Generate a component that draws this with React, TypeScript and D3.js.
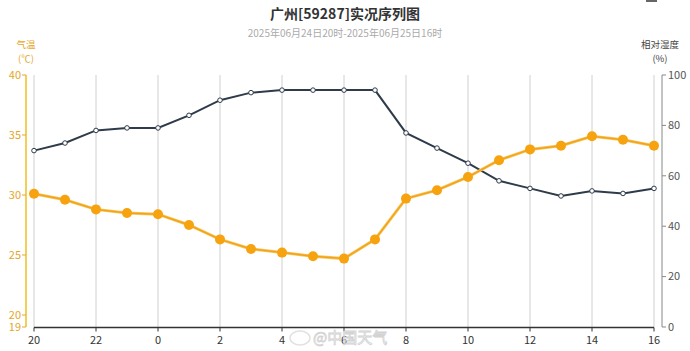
import { useEffect, useRef } from "react";
import * as d3 from "d3";

// hours from 2025-06-24 20h to 2025-06-25 16h
const hours = [20, 21, 22, 23, 0, 1, 2, 3, 4, 5, 6, 7, 8, 9, 10, 11, 12, 13, 14, 15, 16];
const temperature = [30.1, 29.6, 28.8, 28.5, 28.4, 27.5, 26.3, 25.5, 25.2, 24.9, 24.7, 26.3, 29.7, 30.4, 31.5, 32.9, 33.8, 34.1, 34.9, 34.6, 34.1];
const humidity = [70, 73, 78, 79, 79, 84, 90, 93, 94, 94, 94, 94, 77, 71, 65, 58, 55, 52, 54, 53, 55];
const tempTicks = [19, 20, 25, 30, 35, 40];
const humTicks = [0, 20, 40, 60, 80, 100];

const FONT = "'Noto Sans CJK SC', 'Noto Sans', sans-serif";

function App() {
	const ref = useRef<SVGSVGElement>(null);

	const width = 690;
	const height = 351;
	const plot = { left: 34, right: 654, top: 75, bottom: 327 };

	useEffect(() => {
		drawChart();
	}, []);

	function drawChart() {
		const svg = d3.select(ref.current);
		svg.selectAll("*").remove();
		svg.style("font-family", FONT);

		const x = d3.scaleLinear().domain([0, hours.length - 1]).range([plot.left, plot.right]);
		const yTemp = d3.scaleLinear().domain([19, 40]).range([plot.bottom, plot.top]);
		const yHum = d3.scaleLinear().domain([0, 100]).range([plot.bottom, plot.top]);

		// Title
		svg.append("text")
			.attr("x", width / 2)
			.attr("y", 19)
			.attr("text-anchor", "middle")
			.attr("font-size", 14)
			.attr("font-weight", "bold")
			.attr("fill", "#333")
			.text("广州[59287]实况序列图");

		svg.append("text")
			.attr("x", width / 2)
			.attr("y", 37)
			.attr("text-anchor", "middle")
			.attr("font-size", 10)
			.attr("fill", "#aaa")
			.text("2025年06月24日20时-2025年06月25日16时");

		// little menu icon at the top right (cut off)
		svg.append("rect").attr("x", 646).attr("y", 0).attr("width", 11).attr("height", 2).attr("fill", "#666");

		// Vertical grid lines
		const evenIdx = hours.map((_, i) => i).filter((i) => i % 2 === 0);
		svg.append("g")
			.selectAll("line")
			.data(evenIdx)
			.join("line")
			.attr("x1", (d) => x(d))
			.attr("x2", (d) => x(d))
			.attr("y1", plot.top)
			.attr("y2", plot.bottom)
			.attr("stroke", "#d0d0d0")
			.attr("stroke-width", 1);

		// X axis
		const xAxis = svg.append("g").attr("transform", `translate(0, ${plot.bottom + 0.5})`);
		xAxis.append("line")
			.attr("x1", plot.left)
			.attr("x2", plot.right)
			.attr("stroke", "#333")
			.attr("stroke-width", 1.5);
		xAxis.selectAll("line.tick")
			.data(evenIdx)
			.join("line")
			.attr("class", "tick")
			.attr("x1", (d) => x(d))
			.attr("x2", (d) => x(d))
			.attr("y1", 0)
			.attr("y2", 4)
			.attr("stroke", "#333");
		xAxis.selectAll("text")
			.data(evenIdx)
			.join("text")
			.attr("x", (d) => x(d))
			.attr("y", 16)
			.attr("text-anchor", "middle")
			.attr("font-size", 11)
			.attr("fill", "#333")
			.text((d) => hours[d]);

		// Left axis (temperature)
		const leftX = plot.left - 8;
		const left = svg.append("g");
		left.append("line")
			.attr("x1", leftX)
			.attr("x2", leftX)
			.attr("y1", plot.top)
			.attr("y2", plot.bottom)
			.attr("stroke", "#f5cf55")
			.attr("stroke-width", 2);
		left.selectAll("line.tick")
			.data(tempTicks)
			.join("line")
			.attr("class", "tick")
			.attr("x1", leftX - 4)
			.attr("x2", leftX)
			.attr("y1", (d) => yTemp(d))
			.attr("y2", (d) => yTemp(d))
			.attr("stroke", "#e5a72a");
		left.selectAll("text")
			.data(tempTicks)
			.join("text")
			.attr("x", leftX - 5)
			.attr("y", (d) => yTemp(d))
			.attr("dy", "0.35em")
			.attr("text-anchor", "end")
			.attr("font-size", 11)
			.attr("fill", "#e5a72a")
			.text((d) => d);
		svg.append("text")
			.attr("x", leftX)
			.attr("y", 48)
			.attr("text-anchor", "middle")
			.attr("font-size", 9.5)
			.attr("fill", "#e5a72a")
			.text("气温");
		svg.append("text")
			.attr("x", leftX)
			.attr("y", 62)
			.attr("text-anchor", "middle")
			.attr("font-size", 9.5)
			.attr("fill", "#e5a72a")
			.text("(℃)");

		// Right axis (humidity)
		const rightX = plot.right + 8;
		const right = svg.append("g");
		right.append("line")
			.attr("x1", rightX)
			.attr("x2", rightX)
			.attr("y1", plot.top)
			.attr("y2", plot.bottom)
			.attr("stroke", "#888")
			.attr("stroke-width", 1);
		right.selectAll("line.tick")
			.data(humTicks)
			.join("line")
			.attr("class", "tick")
			.attr("x1", rightX)
			.attr("x2", rightX + 4)
			.attr("y1", (d) => yHum(d))
			.attr("y2", (d) => yHum(d))
			.attr("stroke", "#888");
		right.selectAll("text")
			.data(humTicks)
			.join("text")
			.attr("x", rightX + 6)
			.attr("y", (d) => yHum(d))
			.attr("dy", "0.35em")
			.attr("font-size", 11)
			.attr("fill", "#555")
			.text((d) => d);
		svg.append("text")
			.attr("x", 660)
			.attr("y", 48)
			.attr("text-anchor", "middle")
			.attr("font-size", 9.5)
			.attr("fill", "#444")
			.text("相对湿度");
		svg.append("text")
			.attr("x", 660)
			.attr("y", 62)
			.attr("text-anchor", "middle")
			.attr("font-size", 9.5)
			.attr("fill", "#444")
			.text("(%)");

		// Humidity line
		const humLine = d3.line<number>().x((_, i) => x(i)).y((d) => yHum(d));
		svg.append("path")
			.datum(humidity)
			.attr("d", humLine)
			.attr("fill", "none")
			.attr("stroke", "#2e3b4a")
			.attr("stroke-width", 2);
		svg.append("g")
			.selectAll("circle")
			.data(humidity)
			.join("circle")
			.attr("cx", (_, i) => x(i))
			.attr("cy", (d) => yHum(d))
			.attr("r", 2.3)
			.attr("fill", "#fff")
			.attr("stroke", "#2e3b4a")
			.attr("stroke-width", 1);

		// Temperature line
		const tempLine = d3.line<number>().x((_, i) => x(i)).y((d) => yTemp(d));
		svg.append("path")
			.datum(temperature)
			.attr("d", tempLine)
			.attr("fill", "none")
			.attr("stroke", "#f7c75a")
			.attr("stroke-width", 3);
		svg.append("path")
			.datum(temperature)
			.attr("d", tempLine)
			.attr("fill", "none")
			.attr("stroke", "#f2a31b")
			.attr("stroke-width", 1.5);
		svg.append("g")
			.selectAll("circle")
			.data(temperature)
			.join("circle")
			.attr("cx", (_, i) => x(i))
			.attr("cy", (d) => yTemp(d))
			.attr("r", 5)
			.attr("fill", "#f7a30f");

		// watermark
		const wm = svg.append("g").attr("opacity", 0.85);
		wm.append("ellipse").attr("cx", 300).attr("cy", 338).attr("rx", 10).attr("ry", 7).attr("fill", "none").attr("stroke", "#ddd").attr("stroke-width", 1.5);
		wm.append("text")
			.attr("x", 313)
			.attr("y", 343)
			.attr("font-size", 15)
			.attr("fill", "#fff")
			.attr("stroke", "#ccc")
			.attr("stroke-width", 0.8)
			.text("@中国天气");
	}

	return <svg ref={ref} width={width} height={height} style={{ position: "absolute", left: 0, top: 0, background: "#fff" }} />;
}

export default App;
